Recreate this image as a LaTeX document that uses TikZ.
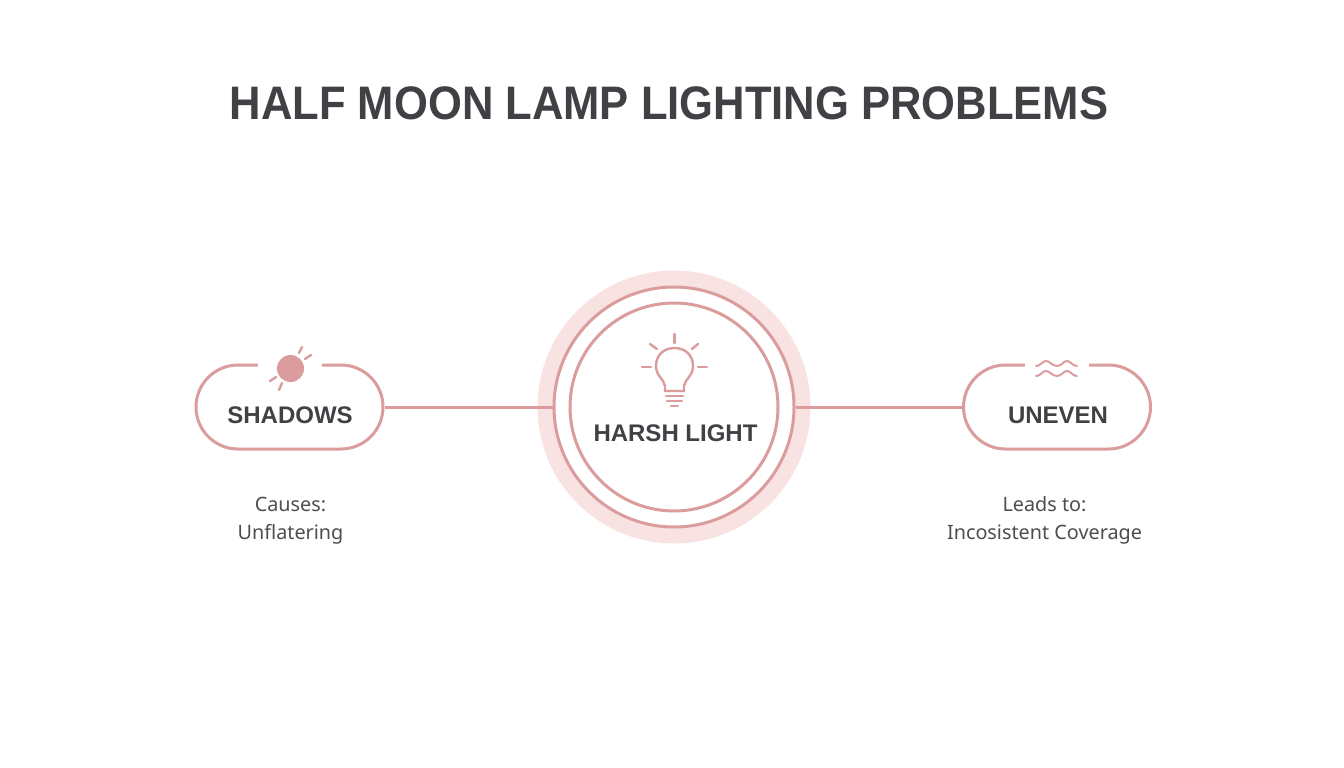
\documentclass[tikz,border=0pt]{standalone}
\usepackage{fontspec}
\setmainfont{Noto Sans}
\newfontfamily\headfont{Liberation Sans}
\newfontfamily\titlefont{Liberation Sans}[FakeStretch=0.927]
\usetikzlibrary{shapes.misc}
\definecolor{rosa}{HTML}{DB9C9E}
\definecolor{halo}{HTML}{F8E3E2}
\definecolor{ink}{HTML}{3F4144}
\definecolor{subink}{HTML}{4B4D51}
\tikzstyle{iconline} = [rosa,line width=2.4pt,line cap=round]

\begin{document}
\begin{tikzpicture}
        [
            x=1pt,y=-1pt,
            ring/.style={circle,draw=rosa,line width=3pt,fill=white,inner sep=0pt},
            pill/.style={rounded rectangle,draw=rosa,line width=3pt,fill=white,inner sep=0pt,minimum width=187pt,minimum height=84pt},
            gap/.style={rectangle,fill=white,inner sep=0pt,minimum width=64pt,minimum height=8pt},
            conn/.style={rosa,line width=3pt},
            headtext/.style={text=ink,font=\headfont\fontsize{24}{28}\selectfont\bfseries,inner sep=0pt},
            subtext/.style={text=subink,font=\fontsize{19.8}{28}\selectfont,align=center,inner sep=0pt},
        ]
    \useasboundingbox (0,0) rectangle (1344,768);

    \node[text=ink,font=\titlefont\fontsize{47}{50}\selectfont\bfseries,inner sep=0pt] (title) at (669,103){HALF MOON LAMP LIGHTING PROBLEMS};

    \node[circle,fill=halo,inner sep=0pt,minimum size=273pt] (halo) at (674,407){};
    \node[ring,minimum size=240pt] (harsh) at (674,407){};
    \node[ring,minimum size=208pt] (harshin) at (674,407){};

    \node[pill] (shadows) at (289.5,407){};
    \node[pill] (uneven) at (1057,407){};
    \draw[conn] (shadows.east) -- (harsh.west);
    \draw[conn] (uneven.west) -- (harsh.east);
    \node[gap] (shadowsgap) at (290,364.5){};
    \node[gap] (unevengap) at (1057,364.5){};

    % bulb
    \draw[iconline] (665,391) -- (665,386) .. controls (664,379) and (656,376) .. (656,366)
        .. controls (656,355) and (664,348) .. (674.5,348)
        .. controls (685,348) and (693,355) .. (693,366)
        .. controls (693,376) and (685,379) .. (684,386) -- (684,391) -- cycle;
    \draw[iconline] (666,396) -- (683,396);
    \draw[iconline] (667,401) -- (682,401);
    \draw[iconline] (671,406) -- (678,406);
    \foreach \xa/\ya/\xb/\yb in {674.5/334/674.5/343,642/367/651/367,698/367/707/367,650/344/657/349,698/344/692/349}
        \draw[iconline] (\xa,\ya) -- (\xb,\yb);

    % sun
    \fill[rosa] (290.5,368.5) circle (13.5);
    \foreach \xa/\ya/\xb/\yb in {302/347/299/353,311/355/305/359,270/381/276/377,279/390/282/383}
        \draw[iconline] (\xa,\ya) -- (\xb,\yb);

    % waves
    \foreach \y in {366,376}
        \draw[iconline,line width=2pt] (1036,\y) .. controls (1041,\y) and (1042,\y-5) .. (1046,\y-5)
            .. controls (1050,\y-5) and (1052,\y) .. (1057,\y)
            .. controls (1062,\y) and (1063,\y-5) .. (1067,\y-5)
            .. controls (1071,\y-5) and (1072,\y) .. (1077,\y);

    \node[headtext] (shadowstext) at (290,415){SHADOWS};
    \node[headtext] (uneventext) at (1058,415){UNEVEN};
    \node[headtext] (harshtext) at (675.5,433){HARSH LIGHT};

    \node[subtext] (causes) at (290.5,520.5){Causes:\\Unflatering};
    \node[subtext] (leads) at (1044.5,520.5){Leads to:\\Incosistent Coverage};
\end{tikzpicture}
\end{document}
